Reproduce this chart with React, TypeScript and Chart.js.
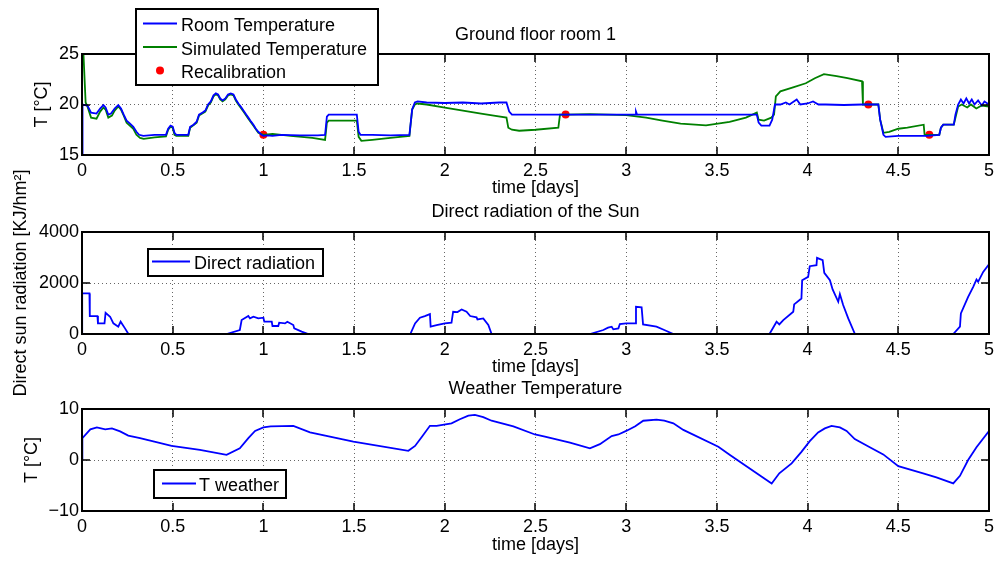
import React, { useEffect, useRef } from 'react';
import { Chart, registerables } from 'chart.js';

Chart.register(...registerables);

// ---------------- DATA ----------------
const xTickValues = [0, 0.5, 1, 1.5, 2, 2.5, 3, 3.5, 4, 4.5, 5];
const xTickLabels = ['0', '0.5', '1', '1.5', '2', '2.5', '3', '3.5', '4', '4.5', '5'];

const roomTickValues = [15, 20, 25];
const roomTickLabels = ['15', '20', '25'];
const sunTickValues = [0, 2000, 4000];
const sunTickLabels = ['0', '2000', '4000'];
const weatherTickValues = [-10, 0, 10];
const weatherTickLabels = ['\u221210', '0', '10'];

// [time (days), value]
const roomTemperature: [number, number][] = [
  [0, 15], [0.003, 20.0], [0.03, 19.9], [0.05, 19.2], [0.08, 19.1], [0.1, 19.6], [0.118, 19.95], [0.13, 19.7],
  [0.145, 19.0], [0.16, 19.1], [0.18, 19.6], [0.2, 19.95], [0.215, 19.6], [0.23, 19.0], [0.246, 18.4], [0.265, 18.1],
  [0.283, 17.8], [0.3, 17.3], [0.315, 17.0], [0.338, 16.9], [0.4, 17.0], [0.463, 17.0], [0.475, 17.6], [0.488, 17.9],
  [0.5, 17.8], [0.51, 17.2], [0.52, 17.0], [0.586, 17.0], [0.596, 17.8], [0.615, 18.0], [0.632, 18.3], [0.645, 19.0],
  [0.665, 19.2], [0.68, 19.4], [0.695, 20.0], [0.71, 20.3], [0.725, 20.9], [0.738, 21.1], [0.75, 21.0], [0.762, 20.6],
  [0.775, 20.4], [0.79, 20.6], [0.805, 21.0], [0.82, 21.1], [0.835, 21.0], [0.848, 20.5], [0.862, 20.1], [0.875, 19.8],
  [0.89, 19.4], [0.905, 19.0], [0.917, 18.7], [0.932, 18.3], [0.945, 18.0], [0.958, 17.6], [0.972, 17.3], [0.99, 17.0],
  [1.0, 16.9], [1.02, 16.95], [1.05, 16.9], [1.1, 17.0], [1.2, 16.95], [1.3, 16.95], [1.34, 17.0], [1.35, 18.8],
  [1.36, 19.0], [1.45, 19.0], [1.515, 19.0], [1.525, 17.3], [1.535, 17.0], [1.6, 17.0], [1.7, 16.95], [1.805, 17.0],
  [1.82, 19.5], [1.835, 20.2], [1.85, 20.3], [1.9, 20.2], [2.0, 20.15], [2.1, 20.2], [2.2, 20.1], [2.3, 20.2],
  [2.34, 20.2], [2.355, 19.3], [2.37, 19.0], [2.5, 19.0], [2.67, 19.0], [2.8, 19.0], [3.0, 19.0], [3.05, 19.0],
  [3.054, 19.3], [3.06, 19.0], [3.2, 19.0], [3.4, 19.0], [3.6, 19.0], [3.72, 19.0], [3.73, 18.2], [3.745, 17.9],
  [3.79, 17.9], [3.805, 18.5], [3.82, 20.0], [3.85, 20.0], [3.88, 20.2], [3.9, 20.0], [3.94, 20.5], [3.96, 20.0],
  [4.0, 20.1], [4.03, 20.3], [4.06, 20.0], [4.1, 20.0], [4.2, 19.95], [4.3, 20.0], [4.34, 20.0], [4.39, 20.0],
  [4.4, 18.5], [4.418, 17.0], [4.43, 16.8], [4.5, 16.9], [4.6, 16.9], [4.657, 16.9], [4.726, 17.0], [4.735, 17.7],
  [4.748, 18.0], [4.806, 18.0], [4.815, 19.0], [4.83, 20.0], [4.845, 20.5], [4.86, 20.1], [4.875, 20.6], [4.89, 20.1],
  [4.905, 20.5], [4.92, 20.0], [4.94, 20.4], [4.96, 19.9], [4.975, 20.3], [5.0, 20.0],
];

const simulatedTemperature: [number, number][] = [
  [0, 25], [0.008, 25], [0.02, 20.2], [0.03, 19.8], [0.05, 18.7], [0.08, 18.6], [0.1, 19.3], [0.118, 19.7],
  [0.13, 19.5], [0.145, 18.7], [0.165, 18.9], [0.18, 19.4], [0.2, 19.8], [0.215, 19.5], [0.23, 18.9], [0.246, 18.2],
  [0.283, 17.6], [0.3, 17.0], [0.32, 16.7], [0.34, 16.6], [0.4, 16.75], [0.463, 16.85], [0.475, 17.5], [0.488, 17.8],
  [0.5, 17.7], [0.51, 17.0], [0.52, 16.9], [0.586, 16.9], [0.596, 17.7], [0.632, 18.2], [0.645, 18.9], [0.68, 19.3],
  [0.695, 19.9], [0.71, 20.2], [0.725, 20.8], [0.738, 21.0], [0.75, 20.9], [0.762, 20.5], [0.775, 20.3], [0.79, 20.5],
  [0.805, 20.9], [0.82, 21.0], [0.835, 20.9], [0.848, 20.4], [0.862, 20.0], [0.89, 19.3], [0.917, 18.6], [0.945, 17.9],
  [0.972, 17.2], [1.0, 17.0], [1.05, 17.1], [1.15, 16.9], [1.27, 16.7], [1.34, 16.5], [1.35, 18.2], [1.36, 18.4],
  [1.515, 18.4], [1.525, 16.8], [1.54, 16.4], [1.6, 16.5], [1.7, 16.7], [1.805, 16.9], [1.82, 19.5], [1.835, 20.0],
  [1.85, 20.1], [1.9, 20.0], [2.0, 19.7], [2.1, 19.4], [2.2, 19.1], [2.27, 18.9], [2.34, 18.7], [2.35, 17.7],
  [2.37, 17.5], [2.41, 17.4], [2.5, 17.5], [2.626, 17.7], [2.635, 19.0], [2.67, 19.0], [2.8, 19.05], [2.9, 19.0],
  [3.0, 18.95], [3.11, 18.7], [3.2, 18.4], [3.3, 18.1], [3.44, 17.93], [3.57, 18.27], [3.66, 18.7], [3.72, 19.2],
  [3.73, 18.5], [3.76, 18.4], [3.8, 18.7], [3.815, 19.0], [3.825, 20.8], [3.85, 21.3], [3.92, 21.7], [3.99, 22.1],
  [4.04, 22.6], [4.09, 23.0], [4.16, 22.8], [4.22, 22.6], [4.3, 22.3], [4.305, 20.0], [4.335, 20.0], [4.39, 20.0],
  [4.4, 18.5], [4.418, 17.2], [4.45, 17.3], [4.5, 17.6], [4.55, 17.7], [4.64, 18.0], [4.645, 17.0], [4.671, 17.0],
  [4.726, 17.0], [4.735, 17.7], [4.748, 18.0], [4.806, 18.0], [4.83, 19.8], [4.85, 20.0], [4.88, 19.7], [4.9, 20.0],
  [4.93, 19.6], [4.96, 19.9], [5.0, 19.8],
];

const recalibration: [number, number][] = [
  [1.0, 17.0], [2.666, 19.0], [4.335, 20.0], [4.671, 17.0],
];

const directRadiation: [number, number][] = [
  [0, 0], [0.001, 1590], [0.041, 1590], [0.043, 704], [0.085, 704], [0.088, 417], [0.124, 417], [0.13, 834],
  [0.155, 678], [0.173, 417], [0.2, 287], [0.213, 482], [0.237, 221], [0.256, 0], [0.797, 0], [0.87, 156],
  [0.88, 547], [0.917, 704], [0.926, 612], [0.945, 678], [0.972, 612], [1.0, 640], [1.005, 482], [1.046, 482],
  [1.05, 313], [1.082, 313], [1.087, 443], [1.119, 417], [1.132, 482], [1.165, 352], [1.17, 221], [1.211, 91],
  [1.248, 0], [1.81, 0], [1.836, 417], [1.863, 640], [1.89, 704], [1.918, 782], [1.922, 287], [1.955, 352],
  [2.0, 417], [2.037, 443], [2.046, 873], [2.07, 860], [2.093, 964], [2.12, 873], [2.14, 704], [2.175, 652],
  [2.18, 573], [2.212, 612], [2.24, 352], [2.258, 0], [2.8, 0], [2.874, 156], [2.9, 247], [2.92, 287],
  [2.929, 182], [2.957, 221], [2.965, 391], [3.0, 417], [3.05, 417], [3.054, 1068], [3.085, 1042], [3.093, 378],
  [3.167, 287], [3.21, 156], [3.26, 0], [3.79, 0], [3.829, 482], [3.844, 378], [3.866, 547], [3.921, 873],
  [3.926, 1160], [3.966, 1394], [3.97, 2111], [4.003, 2241], [4.012, 2658], [4.049, 2697], [4.052, 2984], [4.083, 2893],
  [4.092, 2398], [4.123, 2111], [4.138, 1746], [4.169, 1264], [4.178, 1564], [4.196, 1134], [4.224, 612], [4.261, 0],
  [4.803, 0], [4.84, 287], [4.845, 808], [4.885, 1459], [4.913, 1850], [4.931, 2137], [4.94, 2046], [4.968, 2437],
  [5.0, 2736],
];

const weatherTemperature: [number, number][] = [
  [0, 0], [0.002, 4.3], [0.046, 6.0], [0.082, 6.4], [0.128, 6.0], [0.165, 6.2], [0.21, 5.6], [0.255, 4.8],
  [0.32, 4.3], [0.494, 2.75], [0.65, 2.0], [0.797, 1.0], [0.87, 2.3], [0.917, 4.3], [0.954, 5.7], [1.0, 6.4],
  [1.04, 6.6], [1.165, 6.7], [1.257, 5.4], [1.496, 3.6], [1.799, 1.8], [1.836, 2.75], [1.875, 4.6], [1.918, 6.7],
  [1.955, 6.7], [2.037, 7.2], [2.083, 8.0], [2.13, 8.7], [2.166, 8.85], [2.212, 8.4], [2.258, 7.7], [2.378, 6.6],
  [2.497, 5.0], [2.552, 4.6], [2.69, 3.4], [2.8, 2.3], [2.855, 3.1], [2.92, 4.7], [2.957, 5.0], [3.0, 5.7],
  [3.05, 6.6], [3.094, 7.7], [3.167, 7.9], [3.21, 7.7], [3.26, 7.2], [3.315, 5.9], [3.508, 2.6], [3.572, 1.0],
  [3.802, -4.6], [3.844, -2.6], [3.912, -0.66], [3.966, 1.6], [4.012, 3.7], [4.058, 5.4], [4.095, 6.2], [4.132, 6.7],
  [4.178, 6.4], [4.215, 5.7], [4.26, 4.1], [4.343, 2.5], [4.417, 1.1], [4.5, -1.2], [4.637, -2.6], [4.71, -3.4],
  [4.803, -4.6], [4.84, -3.1], [4.885, 0], [4.931, 2.5], [5.0, 5.7],
];

// ---------------- STYLE ----------------
const FONT = '"Liberation Sans", Arial, Helvetica, sans-serif';
const BLUE = '#0000ff';
const GREEN = '#008000';
const RED = '#ff0000';

const matlabPlugin = {
  id: 'matlabAxes',
  afterDraw(chart: any, _args: any, opts: any) {
    const ctx = chart.ctx;
    const { left, right, top, bottom } = chart.chartArea;
    const xs = chart.scales.x;
    const ys = chart.scales.y;
    ctx.save();
    // inward tick marks
    ctx.strokeStyle = '#000';
    ctx.lineWidth = 1.5;
    ctx.beginPath();
    xs.ticks.forEach((t: any) => {
      const px = Math.round(xs.getPixelForValue(t.value));
      ctx.moveTo(px, bottom);
      ctx.lineTo(px, bottom - 8);
      ctx.moveTo(px, top);
      ctx.lineTo(px, top + 8);
    });
    ys.ticks.forEach((t: any) => {
      const py = Math.round(ys.getPixelForValue(t.value));
      ctx.moveTo(left, py);
      ctx.lineTo(left + 8, py);
      ctx.moveTo(right, py);
      ctx.lineTo(right - 8, py);
    });
    ctx.stroke();
    // axes box
    ctx.lineWidth = 2;
    ctx.strokeRect(left, top, right - left, bottom - top);
    // title
    ctx.fillStyle = '#000';
    ctx.font = `18px ${FONT}`;
    ctx.textAlign = 'center';
    ctx.textBaseline = 'alphabetic';
    ctx.fillText(opts.title, (left + right) / 2, opts.titleY);
    // legend
    const lg = opts.legend;
    ctx.fillStyle = '#fff';
    ctx.fillRect(lg.x, lg.y, lg.w, lg.h);
    ctx.strokeStyle = '#000';
    ctx.lineWidth = 2;
    ctx.strokeRect(lg.x, lg.y, lg.w, lg.h);
    ctx.textAlign = 'left';
    lg.items.forEach((it: any) => {
      const ly = it.baseline - 7.5;
      if (it.kind === 'line') {
        ctx.strokeStyle = it.color;
        ctx.lineWidth = 1.8;
        ctx.beginPath();
        ctx.moveTo(lg.lineX1, ly);
        ctx.lineTo(lg.lineX2, ly);
        ctx.stroke();
      } else {
        ctx.fillStyle = it.color;
        ctx.beginPath();
        ctx.arc((lg.lineX1 + lg.lineX2) / 2, ly, 4, 0, Math.PI * 2);
        ctx.fill();
      }
      ctx.fillStyle = '#000';
      ctx.fillText(it.label, lg.textX, it.baseline);
    });
    ctx.restore();
  },
};

function lineSet(label: string, arr: [number, number][], color: string) {
  return {
    label,
    data: arr.map(([x, y]) => ({ x, y })),
    borderColor: color,
    backgroundColor: color,
    borderWidth: 1.8,
    pointRadius: 0,
    fill: false,
    tension: 0,
  };
}

function buildConfig(p: any) {
  const font = { family: FONT, size: 18 };
  return {
    type: 'line',
    data: { datasets: p.datasets },
    plugins: [matlabPlugin],
    options: {
      animation: false,
      responsive: false,
      maintainAspectRatio: false,
      events: [],
      layout: { padding: { top: p.padTop, right: 10, bottom: p.padBottom, left: 0 } },
      plugins: {
        legend: { display: false },
        tooltip: { enabled: false },
        title: { display: false },
        matlabAxes: { title: p.title, titleY: p.titleY, legend: p.legend },
      },
      scales: {
        x: {
          type: 'linear',
          min: 0,
          max: 5,
          afterBuildTicks: (s: any) => {
            s.ticks = xTickValues.map((v) => ({ value: v }));
          },
          afterFit: (s: any) => {
            s.height = p.xHeight;
          },
          ticks: {
            callback: (v: number) => xTickLabels[xTickValues.indexOf(v)],
            color: '#000',
            font,
            padding: 5,
            maxRotation: 0,
            autoSkip: false,
          },
          grid: { color: 'rgba(0,0,0,0.6)', lineWidth: 1, drawTicks: false },
          border: { display: false, dash: [1, 3] },
          title: { display: true, text: 'time [days]', color: '#000', font, padding: { top: 0, bottom: p.xTitlePad } },
        },
        y: {
          type: 'linear',
          min: p.yMin,
          max: p.yMax,
          afterBuildTicks: (s: any) => {
            s.ticks = p.yTicks.map((v: number) => ({ value: v }));
          },
          afterFit: (s: any) => {
            s.width = 82;
          },
          ticks: {
            callback: (v: number) => p.yLabels[p.yTicks.indexOf(v)],
            color: '#000',
            font,
            padding: 3,
            autoSkip: false,
          },
          grid: { color: 'rgba(0,0,0,0.6)', lineWidth: 1, drawTicks: false },
          border: { display: false, dash: [1, 3] },
          title: { display: true, text: p.yTitle, color: '#000', font, padding: { top: p.yTitlePad, bottom: 0 } },
        },
      },
    },
  };
}

export default function App() {
  const c1 = useRef<HTMLCanvasElement>(null);
  const c2 = useRef<HTMLCanvasElement>(null);
  const c3 = useRef<HTMLCanvasElement>(null);

  useEffect(() => {
    Chart.defaults.font.family = FONT;
    const charts: Chart[] = [];

    charts.push(
      new Chart(c1.current as HTMLCanvasElement, buildConfig({
        datasets: [
          lineSet('Room Temperature', roomTemperature, BLUE),
          lineSet('Simulated Temperature', simulatedTemperature, GREEN),
          {
            label: 'Recalibration',
            data: recalibration.map(([x, y]) => ({ x, y })),
            showLine: false,
            pointRadius: 4,
            pointBackgroundColor: RED,
            pointBorderColor: RED,
            pointBorderWidth: 0,
            borderColor: RED,
            backgroundColor: RED,
          },
        ],
        yMin: 15, yMax: 25, yTicks: roomTickValues, yLabels: roomTickLabels,
        yTitle: 'T [°C]', yTitlePad: 31,
        padTop: 54, padBottom: 361, xHeight: 45, xTitlePad: 1.5,
        title: 'Ground floor room 1', titleY: 39.5,
        legend: {
          x: 136, y: 9, w: 242, h: 76, lineX1: 143, lineX2: 177, textX: 181,
          items: [
            { kind: 'line', color: BLUE, label: 'Room Temperature', baseline: 31 },
            { kind: 'line', color: GREEN, label: 'Simulated Temperature', baseline: 54.5 },
            { kind: 'dot', color: RED, label: 'Recalibration', baseline: 78 },
          ],
        },
      }) as any)
    );

    charts.push(
      new Chart(c2.current as HTMLCanvasElement, buildConfig({
        datasets: [lineSet('Direct radiation', directRadiation, BLUE)],
        yMin: 0, yMax: 4000, yTicks: sunTickValues, yLabels: sunTickLabels,
        yTitle: 'Direct sun radiation [KJ/hm²]', yTitlePad: 10,
        padTop: 232, padBottom: 181, xHeight: 46, xTitlePad: 2.5,
        title: 'Direct radiation of the Sun', titleY: 217,
        legend: {
          x: 148, y: 249, w: 175, h: 27, lineX1: 152, lineX2: 190, textX: 194,
          items: [{ kind: 'line', color: BLUE, label: 'Direct radiation', baseline: 269 }],
        },
      }) as any)
    );

    charts.push(
      new Chart(c3.current as HTMLCanvasElement, buildConfig({
        datasets: [lineSet('T weather', weatherTemperature, BLUE)],
        yMin: -10, yMax: 10, yTicks: weatherTickValues, yLabels: weatherTickLabels,
        yTitle: 'T [°C]', yTitlePad: 21,
        padTop: 409, padBottom: 4, xHeight: 46, xTitlePad: 1.5,
        title: 'Weather Temperature', titleY: 393.5,
        legend: {
          x: 154, y: 470, w: 132, h: 28, lineX1: 162, lineX2: 196, textX: 199,
          items: [{ kind: 'line', color: BLUE, label: 'T weather', baseline: 491 }],
        },
      }) as any)
    );

    return () => {
      charts.forEach((c) => c.destroy());
    };
  }, []);

  const canvasStyle: React.CSSProperties = { position: 'absolute', left: 0, top: 0 };
  return (
    <div style={{ position: 'absolute', left: 0, top: 0, width: 999, height: 561, background: '#fff', overflow: 'hidden' }}>
      <canvas ref={c1} width={999} height={561} style={canvasStyle} />
      <canvas ref={c2} width={999} height={561} style={canvasStyle} />
      <canvas ref={c3} width={999} height={561} style={canvasStyle} />
    </div>
  );
}
